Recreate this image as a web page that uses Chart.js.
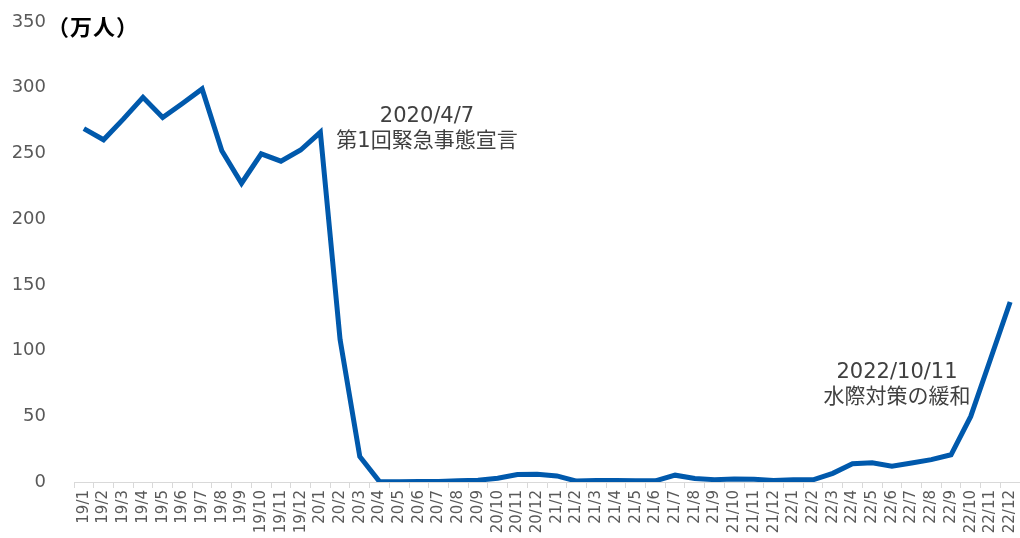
<!DOCTYPE html>
<html>
<head>
<meta charset="utf-8">
<script src="https://cdn.jsdelivr.net/npm/chart.js@4/dist/chart.umd.min.js"></script>
<style>
  html, body { margin: 0; padding: 0; background: #fff; }
  #wrap { width: 1020px; height: 538px; }
</style>
</head>
<body>
<div id="wrap"><canvas id="c"></canvas></div>
<script>
const months = [
  '19/1','19/2','19/3','19/4','19/5','19/6','19/7','19/8','19/9','19/10','19/11','19/12',
  '20/1','20/2','20/3','20/4','20/5','20/6','20/7','20/8','20/9','20/10','20/11','20/12',
  '21/1','21/2','21/3','21/4','21/5','21/6','21/7','21/8','21/9','21/10','21/11','21/12',
  '22/1','22/2','22/3','22/4','22/5','22/6','22/7','22/8','22/9','22/10','22/11','22/12'
]

// visitors, 万人
const visitors = [
  268.9, 260.4, 276.1, 292.7, 277.3, 288.0, 299.1, 252.0, 227.3, 249.7, 244.1, 252.6,
  266.1, 108.5, 19.4, 0.3, 0.2, 0.3, 0.4, 0.9, 1.4, 2.8, 5.7, 5.9,
  4.6, 0.7, 1.2, 1.1, 1.0, 0.9, 5.2, 2.6, 1.8, 2.2, 2.1, 1.2,
  1.7, 1.7, 6.6, 13.9, 14.7, 12.1, 14.5, 17.0, 20.7, 49.9, 93.4, 137.0
]

const yTicks = [0, 50, 100, 150, 200, 250, 300, 350]
const unitLabel = '（万人）'

// [category index, value, line1, line2]
const notes = [
  [17.41, 278, '2020/4/7', '第1回緊急事態宣言'],
  [41.26, 83.3, '2022/10/11', '水際対策の緩和']
]

const FONT = '"DejaVu Sans", "Noto Sans CJK JP", sans-serif'

const labelPlugin = {
  id: 'labels',
  afterDraw(chart) {
    const ctx = chart.ctx
    const x = chart.scales.x
    const y = chart.scales.y
    ctx.save()
    ctx.fillStyle = '#000'
    ctx.font = 'bold 22px "Noto Sans CJK JP", sans-serif'
    ctx.letterSpacing = '1px'
    ctx.textAlign = 'left'
    ctx.textBaseline = 'middle'
    ctx.fillText(unitLabel, 47, y.getPixelForValue(350) + 5)
    ctx.letterSpacing = '0px'

    ctx.fillStyle = '#404040'
    ctx.font = '21px ' + FONT
    ctx.textAlign = 'center'
    notes.forEach(n => {
      const px = x.getPixelForValue(n[0])
      const py = y.getPixelForValue(n[1])
      ctx.fillText(n[2], px, py)
      ctx.fillText(n[3], px, py + 25)
    })
    ctx.restore()
  }
}

new Chart(document.getElementById('c'), {
  type: 'line',
  data: {
    labels: months,
    datasets: [{
      data: visitors,
      borderColor: '#0059AC',
      borderWidth: 5,
      pointRadius: 0,
      tension: 0,
      fill: false
    }]
  },
  options: {
    responsive: true,
    maintainAspectRatio: false,
    animation: false,
    layout: { padding: { top: 22, right: 0, left: 0, bottom: 0 } },
    plugins: {
      legend: { display: false },
      tooltip: { enabled: false }
    },
    scales: {
      x: {
        offset: true,
        grid: {
          offset: true,
          drawOnChartArea: false,
          drawTicks: true,
          tickLength: 6,
          color: '#d9d9d9'
        },
        border: { display: true, color: '#d9d9d9', width: 1 },
        ticks: {
          autoSkip: false,
          minRotation: 90,
          maxRotation: 90,
          padding: 2,
          color: '#595959',
          font: { size: 15, family: FONT }
        },
        afterFit(scale) {
          scale.height = 56
          scale.paddingLeft = 0
          scale.paddingRight = 0
        }
      },
      y: {
        min: 0,
        max: 350,
        afterBuildTicks(scale) { scale.ticks = yTicks.map(v => ({ value: v })) },
        grid: { display: false, drawTicks: false },
        border: { display: false },
        ticks: {
          padding: 28,
          color: '#595959',
          font: { size: 18, family: FONT }
        },
        afterFit(scale) {
          scale.width = 74
          scale.paddingTop = 0
          scale.paddingBottom = 0
        }
      }
    }
  },
  plugins: [labelPlugin]
})
</script>
</body>
</html>
